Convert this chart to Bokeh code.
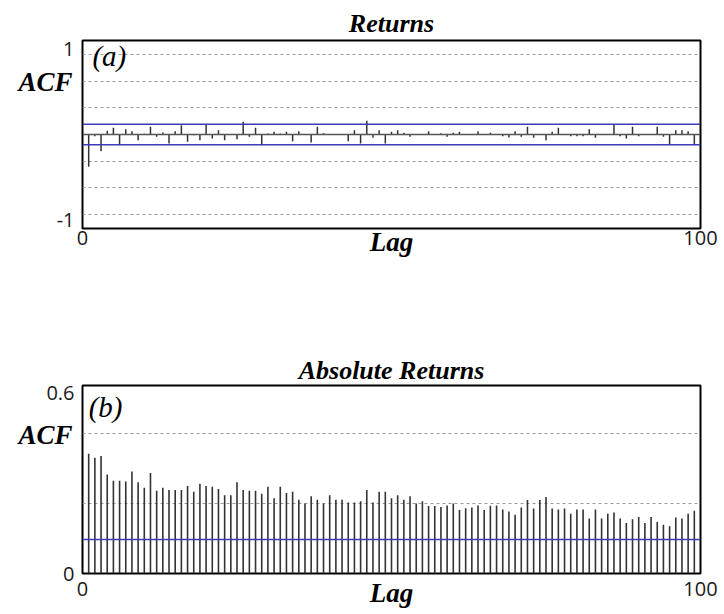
from bokeh.plotting import figure
from bokeh.layouts import column
from bokeh.models import FixedTicker, Span, Label, LinearAxis
from bokeh.embed import file_html
from bokeh.resources import INLINE

# ---------------- data ----------------
lags = list(range(1, 100))

acf_returns = [
    -0.378, -0.020, -0.195, 0.043, 0.078, -0.125, 0.062, 0.039, -0.066, 0.008,
    0.090, -0.027, 0.023, -0.105, 0.039, 0.109, -0.086, -0.010, -0.066, 0.117,
    -0.047, 0.051, -0.066, 0.005, -0.055, 0.148, -0.027, 0.078, -0.125, 0.012,
    0.031, 0.012, 0.031, -0.078, 0.039, 0.004, -0.094, 0.090, 0.016, -0.004,
    0.003, -0.003, -0.078, 0.051, -0.105, 0.160, -0.039, 0.051, -0.105, 0.031,
    0.051, 0.020, -0.027, 0.003, -0.003, 0.039, 0.002, 0.016, -0.027, 0.020,
    0.031, 0.003, -0.003, 0.039, 0.004, 0.020, 0.003, -0.020, -0.035, 0.039,
    -0.027, 0.090, -0.039, 0.003, -0.066, 0.031, 0.078, 0.003, -0.020, -0.020,
    -0.020, 0.062, -0.039, 0.003, -0.003, 0.124, -0.020, -0.047, 0.090, -0.020,
    0.003, 0.003, 0.090, -0.027, -0.117, 0.051, 0.051, 0.039, -0.125,
]

acf_abs_returns = [
    0.398, 0.385, 0.391, 0.329, 0.308, 0.308, 0.306, 0.339, 0.303, 0.285,
    0.334, 0.275, 0.285, 0.278, 0.278, 0.278, 0.291, 0.272, 0.298, 0.291,
    0.288, 0.281, 0.260, 0.260, 0.303, 0.278, 0.275, 0.275, 0.265, 0.288,
    0.250, 0.288, 0.268, 0.272, 0.245, 0.233, 0.257, 0.245, 0.233, 0.260,
    0.245, 0.245, 0.236, 0.236, 0.240, 0.278, 0.236, 0.272, 0.272, 0.250,
    0.260, 0.245, 0.257, 0.233, 0.240, 0.224, 0.224, 0.221, 0.226, 0.233,
    0.211, 0.217, 0.219, 0.226, 0.211, 0.225, 0.226, 0.213, 0.206, 0.195,
    0.219, 0.244, 0.216, 0.244, 0.254, 0.216, 0.213, 0.216, 0.199, 0.213,
    0.213, 0.183, 0.213, 0.183, 0.199, 0.203, 0.183, 0.168, 0.180, 0.188,
    0.168, 0.188, 0.172, 0.162, 0.157, 0.186, 0.183, 0.199, 0.209,
]

ci_returns = 0.12
ci_abs = 0.113

x_ticks = [0, 100]
returns_y_ticks = [-1, 1]
returns_y_labels = {-1: "-1", 1: "1"}
abs_y_ticks = [0, 0.6]

returns_grid = [-0.939, -0.626, -0.313, 0.313, 0.626, 0.939]
abs_grid = [0.232, 0.464]

# ---------------- styling ----------------
SERIF = "Liberation Serif"
SANS = "Open Sans"
BAR_COLOR = "#333333"
BLUE = "#3c3cb8"


def base_fig(title, y_range, y_ticks, grid_levels, top, bottom, x_standoff,
             title_standoff, lag_standoff, acf_pos, acf_standoff):
    p = figure(
        frame_width=618, frame_height=188,
        min_border_left=82, min_border_right=24,
        min_border_top=top, min_border_bottom=bottom,
        x_range=(0, 100), y_range=y_range,
        output_backend="svg", toolbar_location=None,
    )
    p.background_fill_color = "white"
    p.border_fill_color = "white"
    p.outline_line_color = "black"
    p.outline_line_width = 2
    p.outline_line_alpha = 1.0

    p.title.text = title
    p.title.align = "center"
    p.title.text_font = SERIF
    p.title.text_font_style = "bold italic"
    p.title.text_font_size = "26px"
    p.title.text_color = "black"
    p.title.standoff = title_standoff

    for ax in (p.xaxis, p.yaxis):
        ax.axis_line_color = None
        ax.major_tick_line_color = None
        ax.minor_tick_line_color = None
        ax.major_label_text_font = SANS
        ax.major_label_text_font_size = "20px"
        ax.major_label_text_color = "#1a1a1a"
    p.xaxis.ticker = FixedTicker(ticks=x_ticks)
    p.yaxis.ticker = FixedTicker(ticks=y_ticks)
    p.xaxis.major_label_standoff = x_standoff
    p.yaxis.major_label_standoff = 2

    p.xaxis.axis_label = "Lag"
    p.xaxis.axis_label_text_font = SERIF
    p.xaxis.axis_label_text_font_style = "bold italic"
    p.xaxis.axis_label_text_font_size = "27px"
    p.xaxis.axis_label_text_color = "black"
    p.xaxis.axis_label_standoff = lag_standoff

    acf_axis = LinearAxis(
        ticker=FixedTicker(ticks=[acf_pos]),
        major_label_overrides={acf_pos: "ACF"},
        axis_line_color=None, major_tick_line_color=None, minor_tick_line_color=None,
        major_label_text_font=SERIF, major_label_text_font_style="bold italic",
        major_label_text_font_size="27px", major_label_text_color="black",
        major_label_standoff=acf_standoff,
    )
    p.add_layout(acf_axis, "left")

    p.xgrid.visible = False
    p.ygrid.ticker = FixedTicker(ticks=grid_levels)
    p.ygrid.grid_line_color = "#9a9a9a"
    p.ygrid.grid_line_dash = "3 3"
    p.ygrid.grid_line_width = 1
    return p


def add_tag(p, x, y, text):
    p.add_layout(Label(x=x, y=y, text=text, text_font=SERIF,
                       text_font_size="29px", text_font_style="italic",
                       text_align="left", text_baseline="middle",
                       text_color="black"))


# ---------------- panel (a) ----------------
p1 = base_fig("Returns", (-1.1, 1.1), returns_y_ticks, returns_grid,
              top=40, bottom=72, x_standoff=-4, title_standoff=5,
              lag_standoff=-21, acf_pos=0.614, acf_standoff=-25)
p1.yaxis[0].major_label_overrides = returns_y_labels
p1.add_layout(Span(location=0, dimension="width", line_color="#555555", line_width=1.5))
for c in (ci_returns, -ci_returns):
    p1.add_layout(Span(location=c, dimension="width", line_color=BLUE, line_width=1.5))
p1.segment(x0=lags, y0=[0] * len(lags), x1=lags, y1=acf_returns,
           line_color=BAR_COLOR, line_width=1.5)
add_tag(p1, 1.6, 0.923, "(a)")

# ---------------- panel (b) ----------------
p2 = base_fig("Absolute Returns", (0, 0.625), abs_y_ticks, abs_grid,
              top=85, bottom=41, x_standoff=2, title_standoff=1,
              lag_standoff=-21, acf_pos=0.459, acf_standoff=-35)
p2.add_layout(Span(location=ci_abs, dimension="width", line_color=BLUE, line_width=1.5))
p2.segment(x0=lags, y0=[0] * len(lags), x1=lags, y1=acf_abs_returns,
           line_color=BAR_COLOR, line_width=1.6)
add_tag(p2, 1.0, 0.555, "(b)")

layout = column(p1, p2, spacing=0)
open("out.html", "w").write(file_html(layout, INLINE))
